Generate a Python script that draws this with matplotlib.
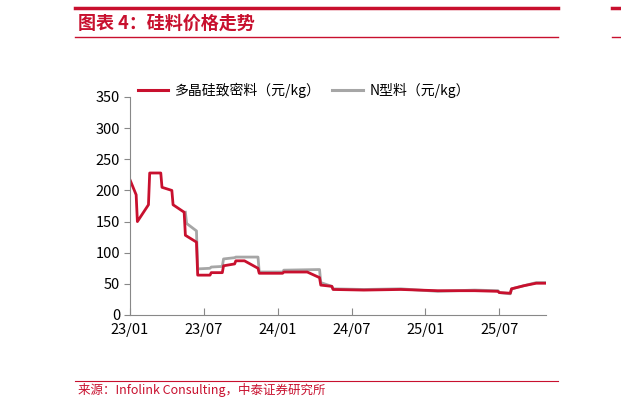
import matplotlib
matplotlib.use("Agg")
import matplotlib.pyplot as plt
from matplotlib.lines import Line2D

plt.rcParams['font.family'] = ['Noto Sans CJK SC', 'DejaVu Sans']

# months since 2023-01
red_x = [0, 0.5, 0.6, 1.5, 1.6, 2.5, 2.6, 3.4, 3.5, 4.4, 4.5, 5.4, 5.5, 6.5, 6.6, 7.5, 7.6, 8.5, 8.6, 9.3,
         10.4, 10.5, 12.4, 12.5, 14.4, 15.4, 15.5, 16.4, 16.5, 19, 22, 25, 28, 29.9, 30.0, 30.9, 31, 32, 33, 33.8]
red_y = [217, 193, 150, 177, 228, 228, 205, 200, 177, 165, 128, 117, 64, 64, 68, 68, 79, 82, 87, 87,
         75, 67, 67, 69, 69, 60, 48, 46, 41, 40, 41, 39, 39, 38, 36, 35, 42, 47, 51, 51]
gray_x = [4.5, 4.6, 5.4, 5.5, 6.5, 6.6, 7.5, 7.6, 8.5, 8.6, 10.4, 10.5, 12.4, 12.5, 15.4, 15.5, 16.4, 16.5,
          19, 22, 25, 28, 29.9, 30.0, 30.9, 31, 32, 33, 33.8]
gray_y = [165, 147, 135, 74, 75, 77, 78, 90, 92, 93, 93, 69, 69, 72, 73, 52, 46, 42,
          41, 42, 38, 40, 39, 36, 34, 42, 47, 52, 52]
tick_pos = [0, 6, 12, 18, 24, 30]
tick_labels = ['23/01', '23/07', '24/01', '24/07', '25/01', '25/07']
y_ticks = [0, 50, 100, 150, 200, 250, 300, 350]

RED = '#C8102E'
GRAY = '#A6A6A6'
fig = plt.figure(figsize=(6.21, 4.09), dpi=100)
W, H = 621, 409
def fy(p): return 1 - p / H

ax = fig.add_axes([130 / W, fy(315), (546 - 130) / W, (315 - 97) / H])
ax.plot(gray_x, gray_y, color=GRAY, lw=2.0)
ax.plot(red_x, red_y, color=RED, lw=2.0)
ax.set_xlim(0, 33.8)
ax.set_ylim(0, 350)
ax.set_yticks(y_ticks)
ax.set_xticks(tick_pos)
ax.set_xticklabels(tick_labels)
for s in ['top', 'right']:
    ax.spines[s].set_visible(False)
for s in ['left', 'bottom']:
    ax.spines[s].set_color('#888888')
ax.tick_params(axis='both', labelsize=10.5, color='#888888', length=4, direction='out')
ax.tick_params(axis='x', direction='in', length=5, pad=6)
ax.tick_params(axis='y', pad=3)

handles = [Line2D([], [], color=RED, lw=2.2), Line2D([], [], color=GRAY, lw=2.2)]
fig.legend(handles, ['多晶硅致密料（元/kg）', 'N型料（元/kg）'], loc='center left',
           bbox_to_anchor=(125 / W, fy(90)), ncol=2, frameon=False, fontsize=10,
           handlelength=2.2, columnspacing=0.8, handletextpad=0.5)

# decorations
for (x0, x1, y, lw) in [(75, 558, 8, 2.5), (75, 558, 37, 1.0), (612, 621, 8, 2.5), (612, 621, 37, 1.0),
                        (75, 558, 381, 0.8)]:
    fig.add_artist(Line2D([x0 / W, x1 / W], [fy(y), fy(y)], color=RED, lw=lw))
fig.text(78 / W, fy(23), '图表 4：硅料价格走势', color=RED, fontsize=13, fontweight='bold',
         style='italic', va='center')
fig.text(78 / W, fy(390), '来源：Infolink Consulting，中泰证券研究所', color=RED, fontsize=9, va='center')

fig.savefig('out.png', dpi=100)
